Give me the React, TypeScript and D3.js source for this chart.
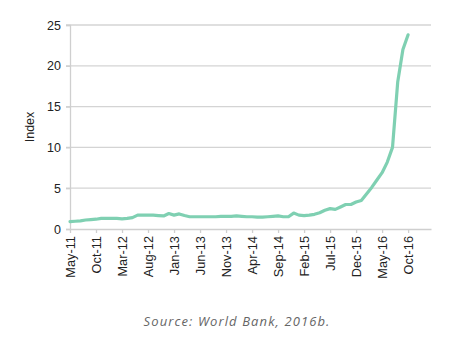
import React, { useEffect, useRef } from "react";
import * as d3 from "d3";

// monthly index, May-11 .. Oct-16
const startMonth = new Date(2011, 4, 1);
const indexValues = [
  0.9, 0.95, 1.0, 1.1, 1.15, 1.2, 1.3, 1.3, 1.3, 1.3, 1.25, 1.3,
  1.4, 1.7, 1.7, 1.7, 1.7, 1.65, 1.6, 1.9, 1.7, 1.85, 1.65, 1.5,
  1.5, 1.5, 1.5, 1.5, 1.5, 1.55, 1.55, 1.55, 1.6, 1.55, 1.5, 1.5,
  1.45, 1.45, 1.5, 1.55, 1.6, 1.5, 1.5, 1.95, 1.7, 1.65, 1.7, 1.8,
  2.0, 2.3, 2.5, 2.4, 2.7, 3.0, 3.0, 3.3, 3.5, 4.3, 5.1, 6.0,
  6.9, 8.2, 10.0, 18.0, 22.0, 23.8,
];
const tickLabels = [
  "May-11", "Oct-11", "Mar-12", "Aug-12", "Jan-13", "Jun-13", "Nov-13",
  "Apr-14", "Sep-14", "Feb-15", "Jul-15", "Dec-15", "May-16", "Oct-16",
];
const yTicks = [0, 5, 10, 15, 20, 25];

const W = 474;
const H = 364;
const margin = { left: 70, right: 43, top: 25, bottom: 135 };
const font = "'Liberation Sans', Arial, sans-serif";

const App = () => {
  const ref = useRef<SVGGElement>(null);

  useEffect(() => {
    const g = d3.select(ref.current);
    g.selectAll("*").remove();

    const x = d3.scaleLinear().domain([0, 69.4]).range([margin.left, W - margin.right]);
    const y = d3.scaleLinear().domain([0, 25]).range([H - margin.bottom, margin.top]);

    // gridlines
    g.append("g")
      .selectAll("line")
      .data(yTicks.filter((d) => d > 0))
      .join("line")
      .attr("x1", margin.left - 4)
      .attr("x2", W - margin.right)
      .attr("y1", (d) => y(d))
      .attr("y2", (d) => y(d))
      .attr("stroke", "#d4d4d4")
      .attr("stroke-width", 1.3);

    // y axis
    const yAxis = g
      .append("g")
      .attr("transform", `translate(${margin.left},0)`)
      .call(d3.axisLeft(y).tickValues(yTicks).tickSize(4).tickPadding(5));
    yAxis.select(".domain").attr("stroke", "#cfcfcf").attr("stroke-width", 1.3);
    yAxis.selectAll(".tick line").attr("stroke", "#cfcfcf").attr("stroke-width", 1.3);
    yAxis
      .selectAll(".tick text")
      .attr("fill", "#222")
      .style("font-family", font)
      .style("font-size", "12.5px");

    // x axis, a tick every 5 months
    const tickIdx = tickLabels.map((_, i) => i * 5);
    const xAxis = g
      .append("g")
      .attr("transform", `translate(0,${y(0)})`)
      .call(
        d3
          .axisBottom(x)
          .tickValues(tickIdx)
          .tickSize(4)
          .tickSizeOuter(0)
          .tickFormat((_, i) => tickLabels[i])
      );
    xAxis.select(".domain").attr("stroke", "#cfcfcf").attr("stroke-width", 1.3);
    xAxis.selectAll(".tick line").attr("stroke", "#cfcfcf").attr("stroke-width", 1.3);
    xAxis
      .selectAll(".tick text")
      .attr("fill", "#222")
      .attr("transform", "rotate(-90)")
      .attr("text-anchor", "end")
      .attr("x", -7)
      .attr("y", 0)
      .attr("dy", "0.35em")
      .style("font-family", font)
      .style("font-size", "12.8px");

    // line
    const line = d3
      .line<number>()
      .x((_, i) => x(d3.timeMonth.count(startMonth, d3.timeMonth.offset(startMonth, i))))
      .y((d) => y(d));
    g.append("path")
      .datum(indexValues)
      .attr("d", line)
      .attr("fill", "none")
      .attr("stroke", "#7fd0b2")
      .attr("stroke-width", 3.2)
      .attr("stroke-linejoin", "round")
      .attr("stroke-linecap", "round");

    // axis title
    g.append("text")
      .attr("transform", `translate(34,${(y(0) + y(25)) / 2}) rotate(-90)`)
      .attr("text-anchor", "middle")
      .attr("fill", "#222")
      .style("font-family", font)
      .style("font-size", "12.5px")
      .text("Index");

    // source note
    g.append("text")
      .attr("x", 237)
      .attr("y", 326)
      .attr("text-anchor", "middle")
      .attr("fill", "#666")
      .style("font-family", "'Open Sans', sans-serif")
      .style("font-style", "italic")
      .style("font-size", "13px")
      .style("letter-spacing", "1.1px")
      .text("Source: World Bank, 2016b.");
  }, []);

  return (
    <svg width={W} height={H} style={{ position: "absolute", left: 0, top: 0, background: "#fff" }}>
      <g ref={ref} />
    </svg>
  );
};

export default App;
